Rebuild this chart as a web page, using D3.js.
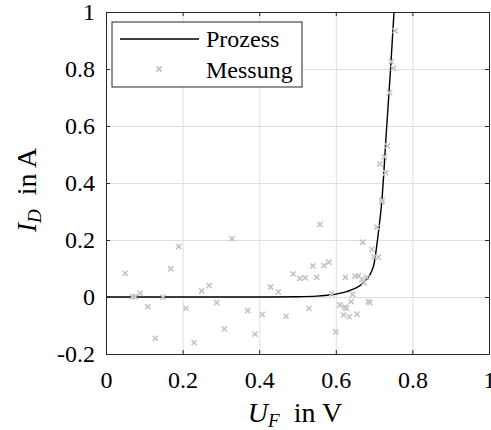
<!DOCTYPE html>
<html>
<head>
<meta charset="utf-8">
<script src="https://cdn.jsdelivr.net/npm/d3@7"></script>
<style>
  body { margin: 0; background: #fff; }
</style>
</head>
<body>
<div id="chart"></div>
<script>
// tick values
var xTicks = [0, 0.2, 0.4, 0.6, 0.8, 1];
var yTicks = [-0.2, 0, 0.2, 0.4, 0.6, 0.8, 1];

// model curve "Prozess"
var procU = [0, 0.4, 0.5, 0.55, 0.585, 0.628, 0.65, 0.672, 0.698, 0.711, 0.72, 0.733, 0.743, 0.752];
var procI = [0, 0, 0.001, 0.003, 0.007, 0.019, 0.03, 0.05, 0.106, 0.224, 0.334, 0.6, 0.8, 1.0];

// measurements "Messung"
var measU = [0.050, 0.069, 0.076, 0.089, 0.109, 0.129, 0.149, 0.169, 0.190, 0.209,
             0.230, 0.250, 0.269, 0.289, 0.309, 0.329, 0.370, 0.389, 0.408, 0.430,
             0.450, 0.470, 0.489, 0.506, 0.520, 0.530, 0.540, 0.550, 0.559, 0.569,
             0.582, 0.589, 0.600, 0.611, 0.620, 0.624, 0.625, 0.628, 0.635, 0.640,
             0.644, 0.650, 0.655, 0.659, 0.668, 0.670, 0.674, 0.681, 0.685, 0.689,
             0.694, 0.700, 0.707, 0.711, 0.720, 0.721, 0.715, 0.727, 0.730, 0.735,
             0.740, 0.745, 0.750, 0.755];
var measI = [0.083, 0.001, 0.001, 0.013, -0.034, -0.145, -0.001, 0.099, 0.177, -0.040,
             -0.160, 0.021, 0.040, -0.020, -0.112, 0.205, -0.048, -0.130, -0.061, 0.035,
             0.018, -0.068, 0.081, 0.065, 0.067, -0.040, 0.109, 0.069, 0.255, 0.111,
             0.122, 0.011, -0.122, -0.028, -0.063, -0.036, 0.069, -0.040, -0.069, -0.016,
             0.009, 0.073, -0.060, 0.074, 0.062, 0.192, 0.050, 0.069, -0.016, -0.020,
             0.167, 0.140, 0.245, 0.140, 0.334, 0.340, 0.467, 0.492, 0.436, 0.530,
             0.717, 0.826, 0.802, 0.934];

var W = 491, H = 430;
var margin = {top: 12, right: 2, bottom: 76, left: 106};
var width = W - margin.left - margin.right,
    height = H - margin.top - margin.bottom;
var serif = "Liberation Serif";

var svg = d3.select("#chart").append("svg")
    .attr("width", W)
    .attr("height", H)
    .attr("font-family", serif);

var g = svg.append("g")
    .attr("transform", "translate(" + margin.left + "," + margin.top + ")");

var x = d3.scaleLinear().domain([0, 1]).range([0, width]);
var y = d3.scaleLinear().domain([-0.2, 1]).range([height, 0]);

var fmt = function (d) { return String(+d.toFixed(1)); };

// grid
g.append("g")
    .attr("transform", "translate(0," + height + ")")
    .call(d3.axisBottom(x).tickValues(xTicks).tickSize(-height).tickFormat(""))
    .call(function (s) { s.select(".domain").remove(); })
    .selectAll("line").attr("stroke", "#dfdfdf");
g.append("g")
    .call(d3.axisLeft(y).tickValues(yTicks).tickSize(-width).tickFormat(""))
    .call(function (s) { s.select(".domain").remove(); })
    .selectAll("line").attr("stroke", "#dfdfdf");

// clip for data
g.append("defs").append("clipPath").attr("id", "clip")
    .append("rect").attr("width", width).attr("height", height);

var plot = g.append("g").attr("clip-path", "url(#clip)");

// process curve
var line = d3.line()
    .x(function (d, i) { return x(procU[i]); })
    .y(function (d, i) { return y(procI[i]); })
    .curve(d3.curveMonotoneX);
plot.append("path")
    .datum(procU)
    .attr("d", line)
    .attr("fill", "none")
    .attr("stroke", "#000")
    .attr("stroke-width", 1.4);

// measurement crosses
var cross = function (sel, s) {
    sel.attr("d", "M" + (-s) + "," + (-s) + "L" + s + "," + s + "M" + (-s) + "," + s + "L" + s + "," + (-s))
        .attr("stroke", "#c4c4c4")
        .attr("stroke-width", 1.6)
        .attr("fill", "none");
};
plot.append("g").selectAll("path")
    .data(measU)
    .enter()
    .append("path")
    .attr("transform", function (d, i) { return "translate(" + x(d) + "," + y(measI[i]) + ")"; })
    .call(cross, 2.6);

// axes (ticks inside, box on)
function styleAxis(s) {
    s.attr("font-family", serif).attr("font-size", 24);
    s.select(".domain").attr("stroke", "#262626");
    s.selectAll(".tick line").attr("stroke", "#262626");
    s.selectAll("text").attr("fill", "#000").attr("font-family", serif);
}
g.append("g")
    .attr("transform", "translate(0," + height + ")")
    .call(d3.axisBottom(x).tickValues(xTicks).tickFormat(fmt).tickSizeInner(-4).tickSizeOuter(0).tickPadding(17))
    .call(styleAxis);
g.append("g")
    .call(d3.axisTop(x).tickValues(xTicks).tickFormat("").tickSizeInner(-4).tickSizeOuter(0))
    .call(styleAxis);
g.append("g")
    .call(d3.axisLeft(y).tickValues(yTicks).tickFormat(fmt).tickSizeInner(-4).tickSizeOuter(0).tickPadding(11))
    .call(styleAxis);
g.append("g")
    .attr("transform", "translate(" + width + ",0)")
    .call(d3.axisRight(y).tickValues(yTicks).tickFormat("").tickSizeInner(-4).tickSizeOuter(0))
    .call(styleAxis);

// axis labels
var xl = svg.append("text")
    .attr("x", 295)
    .attr("y", 422)
    .attr("text-anchor", "middle")
    .attr("font-family", serif)
    .attr("font-size", 28);
xl.append("tspan").attr("font-style", "italic").text("U");
xl.append("tspan").attr("font-style", "italic").attr("dy", 5).attr("font-size", 19).text("F");
xl.append("tspan").attr("dy", -5).text("\u2002in V");

var yl = svg.append("text")
    .attr("transform", "translate(36,190) rotate(-90)")
    .attr("text-anchor", "middle")
    .attr("font-family", serif)
    .attr("font-size", 28);
yl.append("tspan").attr("font-style", "italic").text("I");
yl.append("tspan").attr("font-style", "italic").attr("dy", 5).attr("font-size", 19).text("D");
yl.append("tspan").attr("dy", -5).text("\u2002in A");

// legend
var lg = svg.append("g").attr("transform", "translate(112,22)");
lg.append("rect")
    .attr("width", 190).attr("height", 65)
    .attr("fill", "#fff").attr("stroke", "#262626").attr("stroke-width", 1);
lg.append("line")
    .attr("x1", 8).attr("x2", 87).attr("y1", 17).attr("y2", 17)
    .attr("stroke", "#000").attr("stroke-width", 1.4);
lg.append("text").attr("x", 94).attr("y", 25).attr("font-family", serif).attr("font-size", 24).text("Prozess");
lg.append("path").attr("transform", "translate(47,47)").call(cross, 2.6);
lg.append("text").attr("x", 94).attr("y", 56).attr("font-family", serif).attr("font-size", 24).text("Messung");
</script>
</body>
</html>
